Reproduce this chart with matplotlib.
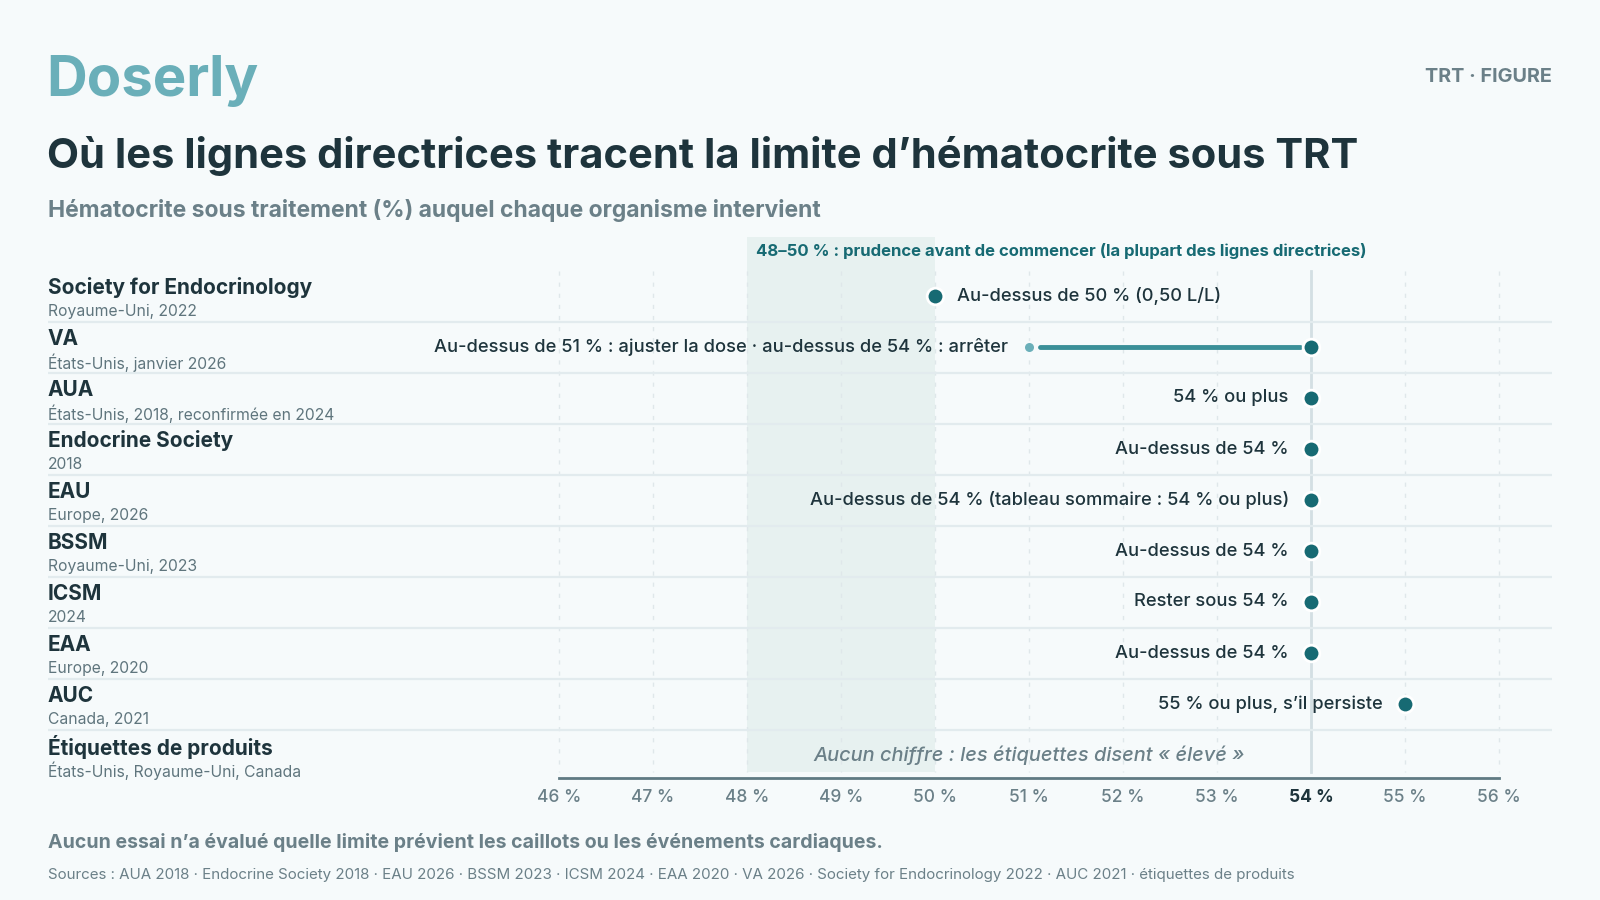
import matplotlib.pyplot as plt
from matplotlib.patches import Rectangle

plt.rcParams['font.family'] = ['Inter', 'DejaVu Sans']

# data
orgs = ['Society for Endocrinology', 'VA', 'AUA', 'Endocrine Society', 'EAU',
        'BSSM', 'ICSM', 'EAA', 'AUC', 'Étiquettes de produits']
regions = ['Royaume-Uni, 2022', 'États-Unis, janvier 2026',
           'États-Unis, 2018, reconfirmée en 2024', '2018', 'Europe, 2026',
           'Royaume-Uni, 2023', '2024', 'Europe, 2020', 'Canada, 2021',
           'États-Unis, Royaume-Uni, Canada']
thresholds = [50, 54, 54, 54, 54, 54, 54, 54, 55, None]
lower_action = [None, 51, None, None, None, None, None, None, None, None]
value_labels = ['Au-dessus de 50 % (0,50 L/L)',
                'Au-dessus de 51 % : ajuster la dose · au-dessus de 54 % : arrêter',
                '54 % ou plus', 'Au-dessus de 54 %',
                'Au-dessus de 54 % (tableau sommaire : 54 % ou plus)',
                'Au-dessus de 54 %', 'Rester sous 54 %', 'Au-dessus de 54 %',
                '55 % ou plus, s’il persiste', None]
no_number_note = 'Aucun chiffre : les étiquettes disent « élevé »'
ticks = list(range(46, 57))
caution_band = (48, 50)
common_limit = 54

BG = '#f6fafb'
DARK = '#1e343c'
GREY = '#6b8088'
SUBGREY = '#5f757d'
TEAL = '#176a73'
LIGHT_TEAL = '#6aafb9'
LINE_TEAL = '#3a8f98'

W, H = 1600, 900
fig = plt.figure(figsize=(16, 9), dpi=100, facecolor=BG)

def fx(px):
    return px / W

def fy(py):
    return 1 - py / H

# axes spans 48..1552 px; 46% at 559 px, 56% at 1499 px
ax_left, ax_right = 48, 1552
ax_top, ax_bot = 237, 778
ax = fig.add_axes([fx(ax_left), fy(ax_bot), fx(ax_right - ax_left), (ax_bot - ax_top) / H])
ax.set_facecolor(BG)
ppu = (1499 - 559) / 10.0
ax.set_xlim(46 - (559 - ax_left) / ppu, 56 + (ax_right - 1499) / ppu)
row0, rowh = 296, 51.0
ax.set_ylim((ax_bot - row0) / rowh, (ax_top - row0) / rowh)
for s in ax.spines.values():
    s.set_visible(False)
ax.set_xticks([])
ax.set_yticks([])

n = len(orgs)
grid_top = -0.5
band_bot = (772 - row0) / rowh
y_top_lim = ax.get_ylim()[1]

# caution band
ax.add_patch(Rectangle((caution_band[0], y_top_lim), caution_band[1] - caution_band[0],
                       band_bot - y_top_lim, facecolor='#e7f1f0', edgecolor='none', zorder=0))
ax.text(caution_band[0] + 0.1, y_top_lim + 0.27,
        f'{caution_band[0]}–{caution_band[1]} % : prudence avant de commencer (la plupart des lignes directrices)',
        color=TEAL, fontsize=12, fontweight='bold', va='center', ha='left')

# dotted gridlines
for t in ticks:
    ax.plot([t, t], [grid_top, band_bot], color='#dfe7ea', lw=1, ls=(0, (3, 5)), zorder=1)
ax.plot([common_limit, common_limit], [grid_top, band_bot], color='#d3dfe3', lw=2, zorder=1)

# row separators
for i in range(n - 1):
    ax.axhline(i + 0.5, color='#e2ebee', lw=1.6, zorder=1)

# baseline + tick labels
ax.plot([ticks[0], ticks[-1]], [ax.get_ylim()[0]] * 2, color='#5f7a82', lw=2, clip_on=False, zorder=3)
for t in ticks:
    bold = t == common_limit
    ax.text(t, (797 - row0) / rowh, f'{t} %', ha='center', va='center', fontsize=12.5,
            color=DARK if bold else GREY, fontweight='bold' if bold else 'medium', clip_on=False)

# rows
x_label = ax.get_xlim()[0]
for i in range(n):
    ax.text(x_label, i - 0.16, orgs[i], ha='left', va='center', fontsize=15,
            fontweight='bold', color=DARK)
    ax.text(x_label, i + 0.30, regions[i], ha='left', va='center', fontsize=11.3,
            color=SUBGREY)
    v = thresholds[i]
    if v is None:
        ax.text(51, i, no_number_note, ha='center', va='center', fontsize=14.4,
                style='italic', fontweight='medium', color=GREY)
        continue
    lo = lower_action[i]
    if lo is not None:
        ax.plot([lo + 0.12, v - 0.12], [i, i], color=LINE_TEAL, lw=3.5, solid_capstyle='round', zorder=4)
        ax.plot([lo], [i], 'o', ms=8, color=LIGHT_TEAL, mec=BG, mew=1.5, zorder=5)
        ax.annotate(value_labels[i], (lo, i), xytext=(-15, 0), textcoords='offset points',
                    ha='right', va='center', fontsize=13.2, fontweight='medium', color=DARK)
    ax.plot([v], [i], 'o', ms=12, color=TEAL, mec='white', mew=2, zorder=6)
    if i == 0:
        ax.annotate(value_labels[i], (v, i), xytext=(16, 0), textcoords='offset points',
                    ha='left', va='center', fontsize=13.2, fontweight='medium', color=DARK)
    elif lo is None:
        ax.annotate(value_labels[i], (v, i), xytext=(-16, 0), textcoords='offset points',
                    ha='right', va='center', fontsize=13.2, fontweight='medium', color=DARK)

# header
fig.text(fx(46), fy(81), 'Doserly', fontsize=40.5, fontweight='bold', color=LIGHT_TEAL,
         ha='left', va='center')
fig.text(fx(1552), fy(77), 'TRT · FIGURE', fontsize=14.3, fontweight='bold', color=GREY,
         ha='right', va='center')
fig.text(fx(47), fy(156), 'Où les lignes directrices tracent la limite d’hématocrite sous TRT',
         fontsize=30, fontweight='bold', color=DARK, ha='left', va='center')
fig.text(fx(48), fy(210), 'Hématocrite sous traitement (%) auquel chaque organisme intervient',
         fontsize=16.5, fontweight='bold', color=GREY, ha='left', va='center')

# footer
fig.text(fx(48), fy(842), 'Aucun essai n’a évalué quelle limite prévient les caillots ou les événements cardiaques.',
         fontsize=14.05, fontweight='bold', color=GREY, ha='left', va='center')
fig.text(fx(48), fy(875), 'Sources : AUA 2018 · Endocrine Society 2018 · EAU 2026 · BSSM 2023 · ICSM 2024 · '
         'EAA 2020 · VA 2026 · Society for Endocrinology 2022 · AUC 2021 · étiquettes de produits',
         fontsize=10.9, color=GREY, ha='left', va='center')

fig.savefig('out.png', dpi=100, facecolor=BG)
